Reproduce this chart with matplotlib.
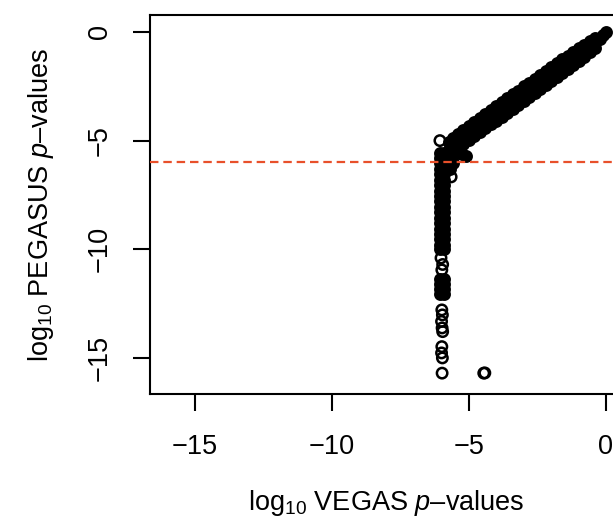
import matplotlib
matplotlib.use("Agg")
import matplotlib.pyplot as plt

plt.rcParams["font.family"] = ["Liberation Sans", "DejaVu Sans"]
plt.rcParams["mathtext.fontset"] = "custom"
plt.rcParams["mathtext.rm"] = "Liberation Sans"
plt.rcParams["mathtext.it"] = "Liberation Sans:italic"

# log10 p-values (VEGAS on x, PEGASUS on y)
# dense diagonal band, three rows across its width
band_mid_x = [-5.6, -5.4, -5.2, -5.0, -4.8, -4.6, -4.4, -4.2, -4.0, -3.8, -3.6, -3.4,
              -3.2, -3.0, -2.8, -2.6, -2.4, -2.2, -2.0, -1.8, -1.6, -1.4, -1.2, -1.0,
              -0.8, -0.6, -0.4, -0.2, -0.1, 0.0]
band_mid_y = [-5.18, -5.00, -4.82, -4.64, -4.46, -4.28, -4.10, -3.92, -3.74, -3.56, -3.38, -3.20,
              -3.02, -2.84, -2.66, -2.48, -2.30, -2.12, -1.94, -1.76, -1.58, -1.40, -1.22, -1.04,
              -0.86, -0.68, -0.50, -0.32, -0.14, 0.0]
band_side_x = [-5.6, -5.4, -5.2, -5.0, -4.8, -4.6, -4.4, -4.2, -4.0, -3.8, -3.6, -3.4,
               -3.2, -3.0, -2.8, -2.6, -2.4, -2.2, -2.0, -1.8, -1.6, -1.4, -1.2, -1.0,
               -0.8, -0.6, -0.4]
band_upper_y = [-4.86, -4.68, -4.49, -4.32, -4.13, -3.95, -3.78, -3.59, -3.41, -3.24, -3.05, -2.87,
                -2.70, -2.51, -2.33, -2.16, -1.97, -1.79, -1.62, -1.44, -1.26, -1.10, -0.92, -0.76,
                -0.59, -0.43, -0.28]
band_lower_y = [-5.52, -5.34, -5.16, -4.97, -4.80, -4.62, -4.44, -4.25, -4.08, -3.90, -3.72, -3.53,
                -3.36, -3.18, -3.00, -2.81, -2.64, -2.46, -2.27, -2.08, -1.90, -1.72, -1.53, -1.34,
                -1.14, -0.94, -0.74]

# vertical column where VEGAS bottoms out near 1e-6
col_y = [-5.55, -5.8, -6.05, -6.3, -6.55, -6.8, -7.05, -7.3, -7.55, -7.8, -8.05, -8.3,
         -8.55, -8.8, -9.05, -9.3, -9.55, -9.8, -10.0,
         -11.35, -11.6, -11.85, -12.05]
col_left_x = [-6.07] * len(col_y)
col_right_x = [-5.91] * len(col_y)

# blob at the bend
bend_x = [-5.72, -5.7, -5.55, -5.4, -5.25, -5.1, -5.65, -5.6, -5.7]
bend_y = [-5.05, -5.3, -5.45, -5.55, -5.6, -5.7, -5.75, -6.05, -6.3]

# isolated open circles
ring_x = [-6.06, -5.65, -6.02, -5.96, -5.99, -5.97, -6.0, -5.98, -5.96, -5.99, -6.0, -5.97,
          -5.98, -5.99, -4.42, -4.46]
ring_y = [-5.0, -6.67, -10.4, -10.7, -12.79, -13.02, -13.32, -13.62, -13.79, -14.48, -14.77,
          -15.0, -15.7, -10.95, -15.69, -15.7]

threshold = -6.0
ticks = [-15, -10, -5, 0]

fig = plt.figure(figsize=(6.13, 5.2), dpi=100)
ax = fig.add_axes([150 / 613, 126 / 520, 473.5 / 613, 379 / 520])

filled_x = band_mid_x + band_side_x + band_side_x + col_left_x + col_right_x + bend_x
filled_y = band_mid_y + band_upper_y + band_lower_y + col_y + col_y + bend_y
ax.scatter(filled_x, filled_y, s=56, facecolors="black", edgecolors="black",
           linewidths=1.8, zorder=2)
ax.scatter(ring_x, ring_y, s=56, facecolors="none", edgecolors="black",
           linewidths=1.8, zorder=3)

ax.axhline(threshold, color="#e8502a", lw=1.6, ls=(0, (3.8, 2.2)), zorder=4)

ax.set_xlim(-16.64, 0.64)
ax.set_ylim(-16.66, 0.78)
ax.set_xticks(ticks)
ax.set_yticks(ticks)
for sp in ax.spines.values():
    sp.set_linewidth(1.5)
ax.tick_params(direction="out", length=12, width=1.5, labelsize=19.5)
ax.tick_params(axis="x", pad=17)
ax.tick_params(axis="y", pad=15, labelrotation=90)
for lab in ax.get_yticklabels():
    lab.set_va("center")

fig.text(386.75 / 613, 1 - 503 / 520, "log$_{10}$ VEGAS $\\mathit{p}$\u2013values",
         ha="center", va="center", fontsize=19.5)
fig.text(41 / 613, 1 - 205 / 520, "log$_{10}$ PEGASUS $\\mathit{p}$\u2013values",
         ha="center", va="center", rotation=90, fontsize=19.5)

fig.savefig("out.png", dpi=100)
